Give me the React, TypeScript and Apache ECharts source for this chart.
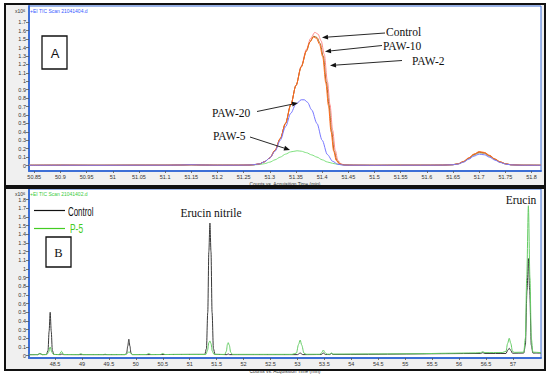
import React, { useEffect, useRef } from "react";
import * as echarts from "echarts";

type P = [number, number];

// ---------- tick labels ----------
const topXTicks = [50.85, 50.9, 50.95, 51, 51.05, 51.1, 51.15, 51.2, 51.25, 51.3, 51.35, 51.4, 51.45, 51.5, 51.55, 51.6, 51.65, 51.7, 51.75, 51.8];
const topYTicks = [0, 0.1, 0.2, 0.3, 0.4, 0.5, 0.6, 0.7, 0.8, 0.9, 1, 1.1, 1.2, 1.3, 1.4, 1.5, 1.6, 1.7];
const botXTicks = [48.5, 49, 49.5, 50, 50.5, 51, 51.5, 52, 52.5, 53, 53.5, 54, 54.5, 55, 55.5, 56, 56.5, 57];
const botYTicks = [0, 0.1, 0.2, 0.3, 0.4, 0.5, 0.6, 0.7, 0.8, 0.9, 1, 1.1, 1.2, 1.3, 1.4, 1.5, 1.6, 1.7, 1.8];

// ---------- panel A (x10^6 counts vs min) ----------
const topBaseline: P[] = [[50.84, 0.003], [50.9, 0.004], [50.97, 0.003], [51.05, 0.004], [51.1, 0.004], [51.13, 0.006], [51.15, 0.009], [51.17, 0.006], [51.2, 0.004], [51.24, 0.004]];
const topTail: P[] = [[51.5, 0.003], [51.55, 0.004], [51.6, 0.004], [51.63, 0.005]];

const controlMain: P[] = [[51.26, 0.006], [51.27, 0.01], [51.28, 0.02], [51.29, 0.045], [51.3, 0.09], [51.31, 0.18], [51.32, 0.32], [51.33, 0.5], [51.34, 0.72], [51.35, 0.95], [51.36, 1.18], [51.37, 1.38], [51.378, 1.51], [51.386, 1.58], [51.392, 1.56], [51.398, 1.48], [51.404, 1.32], [51.41, 1.0], [51.415, 0.72], [51.42, 0.42], [51.425, 0.18], [51.43, 0.06], [51.436, 0.018], [51.445, 0.006], [51.46, 0.004]];
const paw10Main: P[] = [[51.26, 0.006], [51.27, 0.01], [51.28, 0.02], [51.29, 0.045], [51.3, 0.09], [51.31, 0.18], [51.32, 0.32], [51.33, 0.5], [51.34, 0.72], [51.35, 0.95], [51.36, 1.17], [51.37, 1.36], [51.377, 1.47], [51.384, 1.535], [51.39, 1.52], [51.396, 1.45], [51.402, 1.3], [51.408, 0.99], [51.413, 0.72], [51.418, 0.41], [51.423, 0.17], [51.428, 0.06], [51.434, 0.018], [51.443, 0.006], [51.46, 0.004]];
const paw2Main: P[] = [[51.26, 0.006], [51.27, 0.01], [51.28, 0.02], [51.29, 0.045], [51.3, 0.09], [51.31, 0.18], [51.32, 0.32], [51.33, 0.5], [51.34, 0.72], [51.35, 0.95], [51.36, 1.17], [51.37, 1.36], [51.376, 1.46], [51.383, 1.525], [51.389, 1.51], [51.395, 1.44], [51.401, 1.29], [51.407, 0.98], [51.412, 0.71], [51.417, 0.4], [51.422, 0.17], [51.427, 0.06], [51.433, 0.018], [51.442, 0.006], [51.46, 0.004]];
const paw20Main: P[] = [[51.26, 0.006], [51.27, 0.01], [51.28, 0.02], [51.29, 0.045], [51.3, 0.09], [51.31, 0.17], [51.32, 0.3], [51.33, 0.46], [51.34, 0.62], [51.35, 0.73], [51.36, 0.78], [51.366, 0.78], [51.372, 0.75], [51.38, 0.66], [51.39, 0.5], [51.4, 0.3], [51.41, 0.13], [51.42, 0.05], [51.43, 0.015], [51.44, 0.005], [51.46, 0.004]];
const paw5Main: P[] = [[51.26, 0.005], [51.28, 0.012], [51.29, 0.022], [51.3, 0.04], [51.31, 0.068], [51.32, 0.1], [51.33, 0.135], [51.34, 0.162], [51.352, 0.175], [51.36, 0.17], [51.37, 0.152], [51.38, 0.126], [51.39, 0.1], [51.4, 0.068], [51.41, 0.042], [51.42, 0.026], [51.43, 0.014], [51.44, 0.008], [51.46, 0.004]];

const controlSmall: P[] = [[51.65, 0.01], [51.66, 0.02], [51.67, 0.045], [51.68, 0.085], [51.69, 0.128], [51.7, 0.155], [51.71, 0.145], [51.72, 0.112], [51.73, 0.072], [51.74, 0.04], [51.75, 0.02], [51.76, 0.009], [51.78, 0.004], [51.818, 0.003]];
const paw10Small: P[] = [[51.65, 0.01], [51.66, 0.021], [51.67, 0.047], [51.68, 0.088], [51.69, 0.132], [51.7, 0.16], [51.71, 0.15], [51.72, 0.116], [51.73, 0.075], [51.74, 0.042], [51.75, 0.021], [51.76, 0.009], [51.78, 0.004], [51.818, 0.003]];
const paw2Small: P[] = [[51.65, 0.01], [51.66, 0.022], [51.67, 0.049], [51.68, 0.091], [51.69, 0.136], [51.7, 0.165], [51.71, 0.155], [51.72, 0.12], [51.73, 0.078], [51.74, 0.044], [51.75, 0.022], [51.76, 0.01], [51.78, 0.004], [51.818, 0.003]];
const paw20Small: P[] = [[51.65, 0.009], [51.66, 0.018], [51.67, 0.04], [51.68, 0.075], [51.69, 0.112], [51.7, 0.135], [51.71, 0.127], [51.72, 0.098], [51.73, 0.064], [51.74, 0.036], [51.75, 0.018], [51.76, 0.008], [51.78, 0.004], [51.818, 0.003]];
const paw5Small: P[] = [[51.65, 0.01], [51.66, 0.02], [51.67, 0.043], [51.68, 0.082], [51.69, 0.122], [51.7, 0.15], [51.71, 0.14], [51.72, 0.108], [51.73, 0.07], [51.74, 0.039], [51.75, 0.02], [51.76, 0.009], [51.78, 0.004], [51.818, 0.003]];

const topNames = ["Control", "PAW-10", "PAW-2", "PAW-20", "PAW-5"];

// ---------- panel B ----------
const controlB: P[] = [
  [48.02, 0.012], [48.18, 0.012], [48.22, 0.025], [48.26, 0.012], [48.34, 0.013], [48.37, 0.06], [48.39, 0.28], [48.41, 0.5], [48.43, 0.28], [48.45, 0.06], [48.48, 0.014], [48.6, 0.012], [48.63, 0.02], [48.66, 0.012],
  [49.8, 0.012], [49.83, 0.03], [49.85, 0.11], [49.87, 0.19], [49.89, 0.11], [49.91, 0.03], [49.94, 0.012],
  [51.28, 0.015], [51.31, 0.08], [51.335, 0.5], [51.355, 1.2], [51.375, 1.53], [51.395, 1.2], [51.415, 0.5], [51.44, 0.08], [51.47, 0.015],
  [51.69, 0.012], [51.715, 0.02], [51.74, 0.012],
  [53.0, 0.012], [53.05, 0.03], [53.1, 0.012], [53.44, 0.013], [53.48, 0.03], [53.52, 0.013], [53.6, 0.013], [53.63, 0.025], [53.66, 0.014],
  [56.4, 0.025], [56.44, 0.035], [56.48, 0.025], [56.87, 0.025], [56.9, 0.06], [56.93, 0.085], [56.96, 0.06], [56.99, 0.028],
  [57.2, 0.03], [57.23, 0.12], [57.26, 0.75], [57.286, 1.12], [57.31, 0.75], [57.34, 0.12], [57.37, 0.03], [57.52, 0.03],
];
const p5B: P[] = [
  [48.02, 0.01], [48.18, 0.012], [48.22, 0.025], [48.26, 0.012], [48.35, 0.013], [48.38, 0.04], [48.41, 0.1], [48.44, 0.04], [48.47, 0.014], [48.58, 0.013], [48.62, 0.05], [48.66, 0.013],
  [48.94, 0.012], [48.98, 0.022], [49.02, 0.012], [49.4, 0.012], [49.43, 0.017], [49.46, 0.012], [49.82, 0.013], [49.85, 0.03], [49.87, 0.045], [49.9, 0.03], [49.93, 0.013],
  [50.2, 0.013], [50.24, 0.025], [50.28, 0.013], [50.46, 0.013], [50.5, 0.025], [50.54, 0.013], [50.7, 0.014],
  [51.3, 0.014], [51.33, 0.06], [51.355, 0.15], [51.375, 0.17], [51.395, 0.14], [51.42, 0.05], [51.45, 0.015],
  [51.65, 0.014], [51.68, 0.05], [51.7, 0.13], [51.715, 0.15], [51.735, 0.12], [51.76, 0.04], [51.79, 0.015],
  [52.3, 0.015], [52.9, 0.015], [52.98, 0.03], [53.02, 0.13], [53.05, 0.18], [53.08, 0.12], [53.12, 0.03], [53.16, 0.016],
  [53.42, 0.016], [53.45, 0.035], [53.48, 0.065], [53.51, 0.035], [53.55, 0.017], [53.6, 0.017], [53.63, 0.03], [53.66, 0.018],
  [54.5, 0.02], [55.2, 0.022], [55.8, 0.028], [56.3, 0.032], [56.4, 0.035], [56.44, 0.045], [56.48, 0.035], [56.8, 0.036],
  [56.87, 0.05], [56.9, 0.14], [56.93, 0.2], [56.96, 0.14], [56.99, 0.05], [57.03, 0.038],
  [57.2, 0.04], [57.23, 0.2], [57.255, 0.9], [57.286, 1.73], [57.315, 0.9], [57.34, 0.2], [57.37, 0.04], [57.52, 0.035],
];
const botNames = ["Control", "P-5"];

const BLUE = "#3d6fd6";
const SANS = "'Liberation Sans', Arial, sans-serif";
const SERIF = "'Liberation Serif', 'DejaVu Serif', serif";

function arrow(sx: number, sy: number, tx: number, ty: number): any[] {
  const dx = tx - sx, dy = ty - sy;
  const L = Math.hypot(dx, dy);
  const ux = dx / L, uy = dy / L;
  const len = 6, w = 2.4;
  const bx = tx - ux * len, by = ty - uy * len;
  return [
    { type: "line", z: 20, shape: { x1: sx, y1: sy, x2: bx, y2: by }, style: { stroke: "#111", lineWidth: 0.9 } },
    { type: "polygon", z: 20, shape: { points: [[tx, ty], [bx - uy * w, by + ux * w], [bx + uy * w, by - ux * w]] }, style: { fill: "#111" } },
  ];
}

function serifText(x: number, y: number, text: string, align = "left"): any {
  return { type: "text", z: 20, x, y, style: { text, fill: "#111", font: `11.5px ${SANS === "" ? "" : SERIF}`, align, verticalAlign: "middle" } };
}

const fmt = (v: number) => String(Number(v.toFixed(2)));

function xAxisCfg(gridIndex: number, min: number, max: number, ticks: number[]): any {
  return {
    type: "value", gridIndex, min, max,
    axisLine: { show: true, onZero: false, lineStyle: { color: BLUE, width: 2 } },
    axisTick: { show: true, customValues: ticks, length: 2, lineStyle: { color: "#555", width: 0.8 } },
    axisLabel: { customValues: ticks, fontSize: 5.5, color: "#333", margin: 3, fontFamily: SANS, formatter: fmt },
    splitLine: { show: false },
    name: "Counts vs. Acquisition Time (min)", nameLocation: "middle", nameGap: 11,
    nameTextStyle: { fontSize: 4.8, color: "#333", fontFamily: SANS },
  };
}
function yAxisCfg(gridIndex: number, min: number, max: number, ticks: number[]): any {
  return {
    type: "value", gridIndex, min, max,
    axisLine: { show: true, onZero: false, lineStyle: { color: BLUE, width: 2 } },
    axisTick: { show: true, customValues: ticks, length: 3, lineStyle: { color: "#555", width: 0.8 } },
    axisLabel: { customValues: ticks, fontSize: 5.5, color: "#333", margin: 3, fontFamily: SANS, formatter: fmt },
    splitLine: { show: false },
  };
}

function line(name: string, data: P[], color: string, xi: number, width = 1): any {
  return {
    type: "line", name, data, xAxisIndex: xi, yAxisIndex: xi, symbol: "none",
    smooth: 0.3, smoothMonotone: "x", lineStyle: { color, width }, itemStyle: { color },
  };
}

export default function App() {
  const ref = useRef<HTMLDivElement>(null);
  useEffect(() => {
    if (!ref.current) return;
    const chart = echarts.init(ref.current, null, { renderer: "svg" });
    const graphic: any[] = [
      // panel backgrounds
      { type: "rect", z: -5, shape: { x: 5, y: 4, width: 540, height: 182 }, style: { fill: "#f0f0f0" } },
      { type: "rect", z: -5, shape: { x: 5, y: 188, width: 540, height: 182 }, style: { fill: "#f0f0f0" } },
      // panel borders
      { type: "rect", z: 30, shape: { x: 5, y: 4, width: 540, height: 182 }, style: { fill: "none", stroke: "#111", lineWidth: 2 } },
      { type: "rect", z: 30, shape: { x: 5, y: 188, width: 540, height: 182 }, style: { fill: "none", stroke: "#111", lineWidth: 2 } },
      // headers
      { type: "text", z: 20, x: 30, y: 11, style: { text: "+EI TIC Scan 21041404.d", fill: "#3a5cff", font: `5px ${SANS}`, verticalAlign: "middle" } },
      { type: "text", z: 20, x: 30, y: 194, style: { text: "+EI TIC Scan 21041402.d", fill: "#3ccc3c", font: `5px ${SANS}`, verticalAlign: "middle" } },
      { type: "text", z: 20, x: 15, y: 11, style: { text: "{a|x10}{b|6}", fill: "#333", verticalAlign: "middle", rich: { a: { fontSize: 5, fontFamily: SANS, fill: "#333" }, b: { fontSize: 4, fontFamily: SANS, verticalAlign: "top", fill: "#333" } } } },
      { type: "text", z: 20, x: 15, y: 194, style: { text: "{a|x10}{b|6}", fill: "#333", verticalAlign: "middle", rich: { a: { fontSize: 5, fontFamily: SANS, fill: "#333" }, b: { fontSize: 4, fontFamily: SANS, verticalAlign: "top", fill: "#333" } } } },
      // A box
      { type: "rect", z: 20, shape: { x: 42, y: 36, width: 25, height: 33 }, style: { fill: "#fff", stroke: "#111", lineWidth: 1.3 } },
      { type: "text", z: 21, x: 55, y: 53, style: { text: "A", fill: "#111", font: `13px ${SANS}`, align: "center", verticalAlign: "middle" } },
      // top annotations
      serifText(386, 32, topNames[0]),
      serifText(383, 45.5, topNames[1]),
      serifText(412, 60.5, topNames[2]),
      serifText(212, 113, topNames[3]),
      serifText(213, 136, topNames[4]),
      ...arrow(385, 33, 322, 37.5),
      ...arrow(382, 45.5, 325, 51.5),
      ...arrow(402, 60.5, 330, 65.5),
      ...arrow(257, 111.5, 298, 103),
      ...arrow(250, 137, 290, 150),
      // bottom legend
      { type: "line", z: 20, shape: { x1: 34, y1: 210.5, x2: 65, y2: 210.5 }, style: { stroke: "#111", lineWidth: 1.2 } },
      { type: "line", z: 20, shape: { x1: 34, y1: 228.5, x2: 65, y2: 228.5 }, style: { stroke: "#44cc22", lineWidth: 1.2 } },
      { type: "text", z: 20, x: 68, y: 211.5, scaleX: 0.66, style: { text: botNames[0], fill: "#111", font: `12px ${SANS}`, verticalAlign: "middle" } },
      { type: "text", z: 20, x: 70, y: 229, scaleX: 0.7, style: { text: botNames[1], fill: "#44cc22", font: `12px ${SANS}`, verticalAlign: "middle" } },
      // B box
      { type: "rect", z: 20, shape: { x: 46, y: 237, width: 25, height: 30 }, style: { fill: "#fff", stroke: "#111", lineWidth: 1.3 } },
      { type: "text", z: 21, x: 58.5, y: 252.5, style: { text: "B", fill: "#111", font: `12.5px ${SERIF}`, align: "center", verticalAlign: "middle" } },
      serifText(211, 213, "Erucin nitrile", "center"),
      serifText(521, 200, "Erucin", "center"),
    ];

    chart.setOption({
      animation: false,
      backgroundColor: "#fff",
      grid: [
        { left: 29, right: 9, top: 6, bottom: 206, show: true, backgroundColor: "#fff", borderColor: BLUE, borderWidth: 1 },
        { left: 29, right: 9, top: 189, bottom: 19, show: true, backgroundColor: "#fff", borderColor: BLUE, borderWidth: 1 },
      ],
      xAxis: [xAxisCfg(0, 50.84, 51.818, topXTicks), xAxisCfg(1, 48.017, 57.52, botXTicks)],
      yAxis: [yAxisCfg(0, -0.065, 1.893, topYTicks), yAxisCfg(1, -0.027, 1.923, botYTicks)],
      series: [
        line(topNames[4], [...topBaseline, ...paw5Main, ...topTail, ...paw5Small], "#7fe07f", 0),
        line(topNames[0], [...topBaseline, ...controlMain, ...topTail, ...controlSmall], "#ff8a8a", 0),
        line(topNames[1], [...topBaseline, ...paw10Main, ...topTail, ...paw10Small], "#9a6a2a", 0),
        line(topNames[2], [...topBaseline, ...paw2Main, ...topTail, ...paw2Small], "#ff6a1a", 0),
        line(topNames[3], [...topBaseline, ...paw20Main, ...topTail, ...paw20Small], "#7777ff", 0),
        line(botNames[0], controlB, "#3a3a3a", 1),
        line(botNames[1], p5B, "#66cc66", 1),
      ],
      graphic,
    });
    return () => chart.dispose();
  }, []);
  return <div ref={ref} style={{ position: "fixed", left: 0, top: 0, width: 550, height: 377, background: "#fff" }} />;
}
